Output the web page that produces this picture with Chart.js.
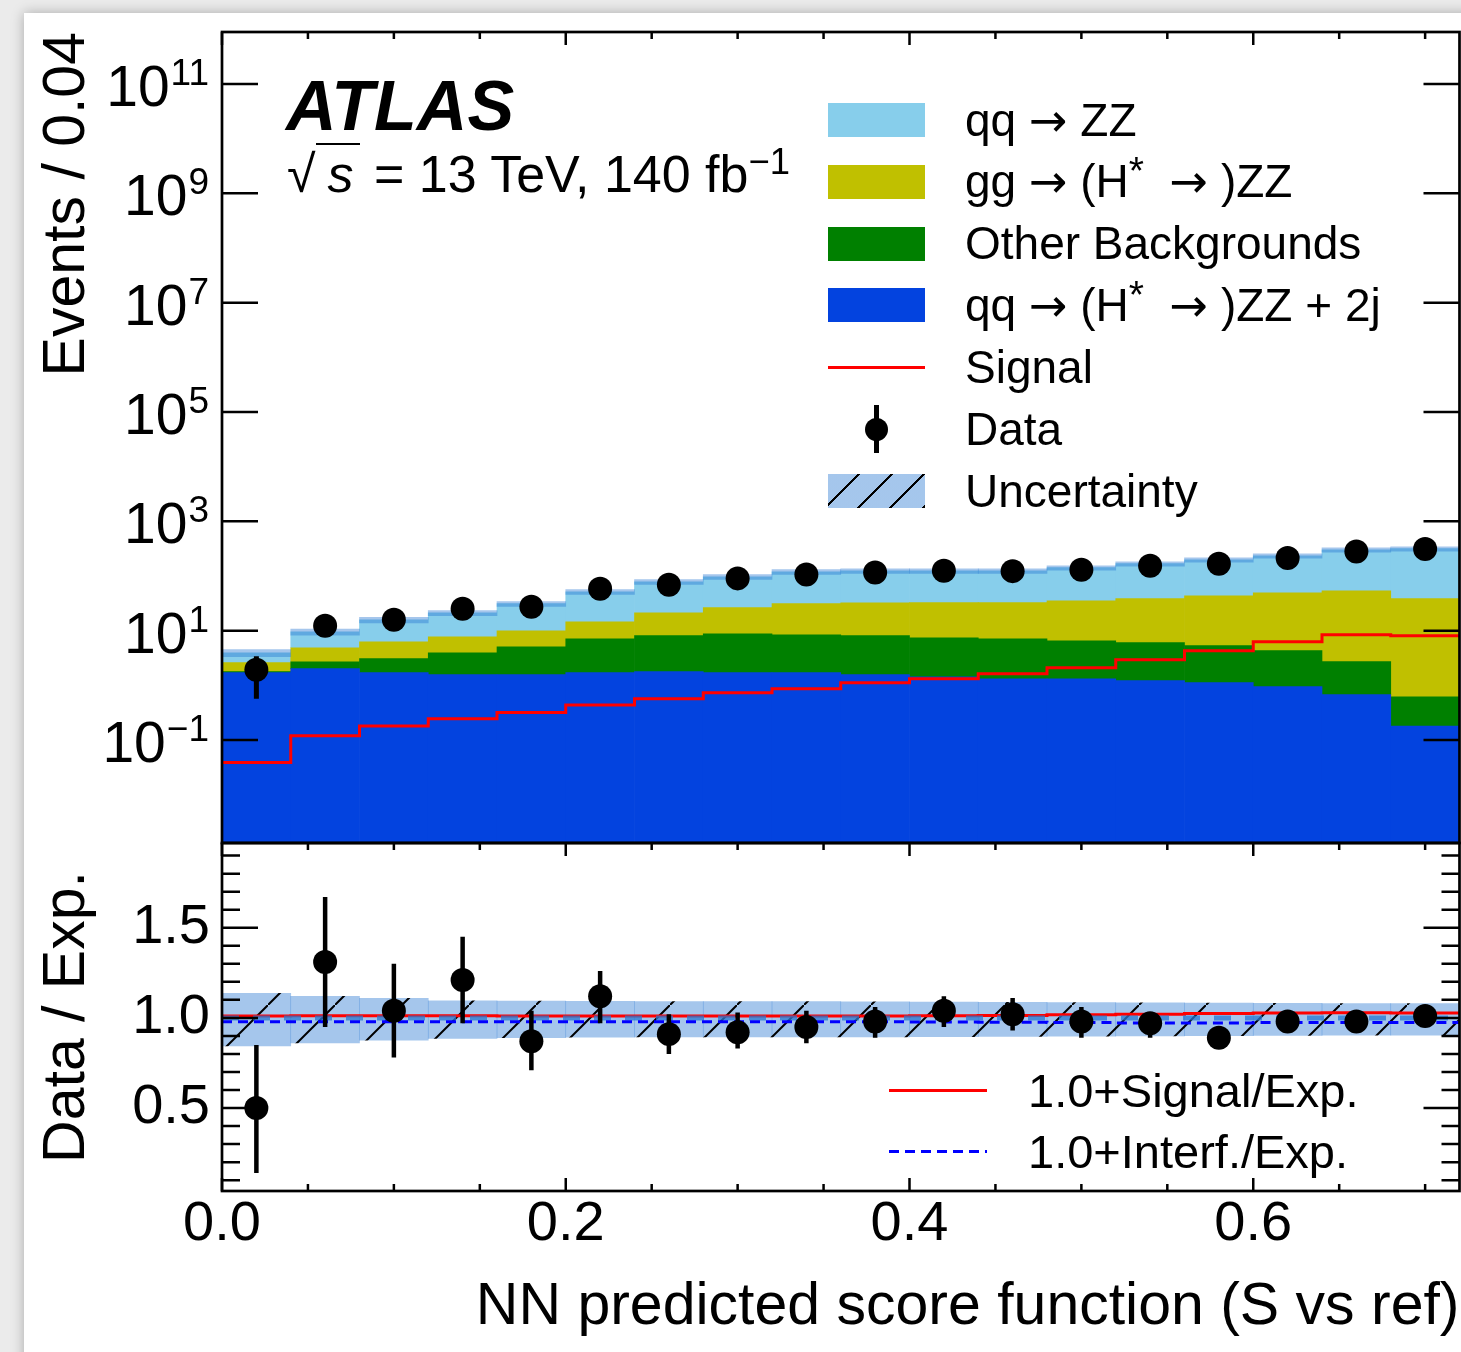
<!DOCTYPE html>
<html lang="en">
<head>
    <meta charset="UTF-8">
    <title>NN predicted score function (S vs ref)</title>
    <script src="https://cdn.jsdelivr.net/npm/chart.js@4"></script>
    <style>
        html, body { margin: 0; padding: 0; }
        body { width: 1461px; height: 1352px; background: #ebebeb; position: relative; overflow: hidden;
               font-family: "Liberation Sans", Arial, sans-serif; color: #000; }
        #card { position: absolute; left: 24px; top: 13px; width: 1500px; height: 1400px; background: #fff;
                box-shadow: 0 0 12px rgba(0, 0, 0, 0.28); }
        #plot { position: absolute; left: 0; top: 0; }
        .txt { position: absolute; white-space: nowrap; line-height: 1; }
        sup { font-size: 0.7em; line-height: 0; position: relative; top: -0.5em; vertical-align: baseline; }
        sup.star { font-size: 0.85em; top: -0.35em; }
        .arr { font-family: "DejaVu Sans", sans-serif; }
        .box { position: absolute; left: 828px; width: 97px; height: 34px; }
    </style>
</head>
<body>
    <div id="card"></div>
    <canvas id="plot" width="1461" height="1352"></canvas>

    <div class="txt" style="left:286px; top:71px; font-size:70px; font-weight:bold; font-style:italic;">ATLAS</div>
    <div class="txt" style="left:287px; top:148px; font-size:52px;"><span>&radic;</span><span style="border-top:2.5px solid #000; padding:0 6px 0 12px; font-style:italic;">s</span> = 13 TeV, 140 fb<sup>&minus;1</sup></div>

    <div id="legend"></div>

    <script>
        // histogram binning of the NN score
        const binEdges = [0.00, 0.04, 0.08, 0.12, 0.16, 0.20, 0.24, 0.28, 0.32, 0.36,
                          0.40, 0.44, 0.48, 0.52, 0.56, 0.60, 0.64, 0.68, 0.72];

        // expected events per bin, bottom of the stack first
        const qqZZjj   = [1.71, 2.02, 1.71, 1.57, 1.57, 1.71, 1.78, 1.71, 1.71, 1.57, 1.44, 1.32, 1.32, 1.22, 1.12, 0.95, 0.68, 0.18];
        const otherBkg = [0.07, 0.69, 1.37, 2.39, 3.52, 5.43, 6.33, 7.10, 6.74, 6.54, 6.01, 5.82, 5.24, 4.82, 4.20, 3.36, 2.04, 0.44];
        const ggZZ     = [0.82, 2.18, 3.21, 3.80, 4.91, 7.46, 13.2, 17.6, 22.8, 24.4, 25.1, 25.4, 28.8, 32.5, 38.3, 45.2, 51.2, 37.9];
        const qqZZ     = [1.36, 4.70, 9.60, 13.5, 21.2, 37.0, 57.4, 70.8, 88.8, 92.5, 92.5, 92.5, 107, 130, 155, 186, 249, 278];
        const signal   = [0.039, 0.12, 0.18, 0.245, 0.32, 0.44, 0.57, 0.73, 0.87, 1.12, 1.32, 1.63, 2.10, 2.95, 4.31, 6.29, 8.45, 8.11];

        // observed data
        const dataEvents = [1.94, 12.3, 15.9, 25.2, 27.5, 58.6, 69.3, 90.6, 107, 116, 125, 123, 130, 154, 168, 214, 282, 312];
        const dataLo     = [0.57, 8.9, 11.9, 19.7, 22.4, 50.8, 61.4, 81.0, 97, 106, 114, 112, 119, 142, 156, 199, 265, 294];
        const dataHi     = [3.4, 15.7, 19.9, 30.7, 32.6, 66.4, 77.2, 100, 117, 126, 136, 134, 141, 166, 180, 229, 299, 330];

        // ratio panel
        const ratioData = [0.50, 1.31, 1.04, 1.21, 0.87, 1.12, 0.91, 0.92, 0.95, 0.98, 1.04, 1.02, 0.98, 0.97, 0.89, 0.98, 0.98, 1.01];
        const ratioLo   = [0.14, 0.95, 0.78, 0.97, 0.71, 0.97, 0.80, 0.83, 0.86, 0.89, 0.95, 0.93, 0.89, 0.89, 0.85, 0.93, 0.93, 0.96];
        const ratioHi   = [0.85, 1.67, 1.30, 1.45, 1.04, 1.26, 1.02, 1.03, 1.04, 1.06, 1.12, 1.11, 1.06, 1.03, 0.94, 1.03, 1.03, 1.05];
        const uncLo     = [0.844, 0.861, 0.876, 0.886, 0.891, 0.893, 0.894, 0.894, 0.894, 0.894, 0.896, 0.897, 0.899, 0.900, 0.901, 0.903, 0.904, 0.904];
        const uncHi     = [1.136, 1.120, 1.108, 1.094, 1.093, 1.092, 1.091, 1.090, 1.090, 1.089, 1.088, 1.087, 1.085, 1.084, 1.082, 1.081, 1.080, 1.080];
        const sigRatio    = [1.010, 1.012, 1.012, 1.012, 1.011, 1.010, 1.010, 1.010, 1.010, 1.011, 1.012, 1.014, 1.017, 1.020, 1.024, 1.027, 1.028, 1.027];
        const interfRatio = [0.978, 0.978, 0.978, 0.978, 0.978, 0.978, 0.978, 0.978, 0.978, 0.978, 0.977, 0.976, 0.975, 0.972, 0.972, 0.974, 0.975, 0.975];

        // axis ticks
        const xTicks = [0.0, 0.2, 0.4, 0.6];
        const ratioTicks = [0.5, 1.0, 1.5];
        const logTickExps = [-1, 1, 3, 5, 7, 9, 11];

        const FONT = '"Liberation Sans", Arial, sans-serif';
        const bandColor = 'rgba(40, 120, 210, 0.42)';

        const centers = binEdges.slice(0, -1).map((e, i) => (e + binEdges[i + 1]) / 2);
        const points = vals => vals.map((v, i) => ({x: centers[i], y: v}));
        // histogram outline: value of bin i is held from edge i to edge i+1
        const steps = vals => binEdges.map((e, i) => ({x: e, y: vals[Math.min(i, vals.length - 1)]}));
        const totals = centers.map((c, i) => qqZZjj[i] + otherBkg[i] + ggZZ[i] + qqZZ[i]);

        function hatchPattern() {
            const s = 67;
            const c = document.createElement('canvas');
            c.width = s; c.height = s;
            const g = c.getContext('2d');
            g.fillStyle = bandColor;
            g.fillRect(0, 0, s, s);
            g.strokeStyle = '#000';
            g.lineWidth = 2;
            g.beginPath();
            g.moveTo(-2, s + 2); g.lineTo(s + 2, -2);
            g.stroke();
            return g.createPattern(c, 'repeat');
        }

        // frame, inward ticks, 10^n labels, error bars
        const atlasStyle = {
            id: 'atlasStyle',
            beforeDatasetDraw(chart, args) {
                const ds = chart.data.datasets[args.index];
                if (!ds.errLo) return;
                const {ctx} = chart;
                const sx = chart.scales.x, sy = chart.scales[ds.yAxisID];
                ctx.save();
                ctx.strokeStyle = '#000';
                ctx.lineWidth = ds.errWidth;
                ctx.beginPath();
                centers.forEach((c, i) => {
                    const px = sx.getPixelForValue(c);
                    ctx.moveTo(px, sy.getPixelForValue(ds.errLo[i]));
                    ctx.lineTo(px, sy.getPixelForValue(ds.errHi[i]));
                });
                ctx.stroke();
                ctx.restore();
            },
            afterDatasetDraw(chart, args) {
                const ds = chart.data.datasets[args.index];
                if (!ds.nominalLine) return;
                const {ctx, chartArea} = chart;
                const sx = chart.scales.x, sy = chart.scales.ratio;
                const py = sy.getPixelForValue(1.0);
                ctx.save();
                ctx.strokeStyle = 'rgba(40, 120, 210, 0.75)';
                ctx.lineWidth = 5;
                ctx.setLineDash([17, 14]);
                ctx.beginPath();
                ctx.moveTo(sx.left, py);
                ctx.lineTo(chartArea.right, py);
                ctx.stroke();
                ctx.restore();
            },
            afterDraw(chart) {
                const {ctx} = chart;
                const sx = chart.scales.x, yU = chart.scales.y, yL = chart.scales.ratio;
                const L = sx.left, R = sx.right;
                ctx.save();
                ctx.strokeStyle = '#000';
                ctx.lineWidth = 2.5;
                ctx.beginPath();
                for (let k = 0; k <= 14; k++) {
                    const v = k * 0.05;
                    const px = sx.getPixelForValue(v);
                    const len = (k % 4 === 0) ? 13 : 7;
                    ctx.moveTo(px, yU.top); ctx.lineTo(px, yU.top + len);
                    ctx.moveTo(px, yL.top); ctx.lineTo(px, yL.top + len);
                    ctx.moveTo(px, yL.bottom); ctx.lineTo(px, yL.bottom - len);
                }
                logTickExps.forEach(e => {
                    const py = yU.getPixelForValue(Math.pow(10, e));
                    ctx.moveTo(L, py); ctx.lineTo(L + 36, py);
                    ctx.moveTo(R, py); ctx.lineTo(R - 36, py);
                });
                for (let k = 1; k <= 19; k++) {
                    const py = yL.getPixelForValue(k / 10);
                    const len = (k % 5 === 0) ? 36 : 18;
                    ctx.moveTo(L, py); ctx.lineTo(L + len, py);
                    ctx.moveTo(R, py); ctx.lineTo(R - len, py);
                }
                ctx.stroke();

                ctx.lineWidth = 2.7;
                ctx.strokeRect(L, yU.top, R - L, yU.bottom - yU.top);
                ctx.strokeRect(L, yL.top, R - L, yL.bottom - yL.top);

                // log axis labels as 10 with a raised exponent
                ctx.fillStyle = '#000';
                ctx.textAlign = 'right';
                ctx.textBaseline = 'alphabetic';
                logTickExps.forEach(e => {
                    const py = yU.getPixelForValue(Math.pow(10, e));
                    const sup = e < 0 ? '\u2212' + (-e) : String(e);
                    ctx.font = '37px ' + FONT;
                    const w = ctx.measureText(sup).width;
                    ctx.fillText(sup, 209, py + 1);
                    ctx.font = '57px ' + FONT;
                    ctx.fillText('10', 208 - w, py + 22);
                });
                ctx.restore();
            }
        };

        const noPadY = axis => { axis.width = 222; axis.paddingTop = 0; axis.paddingBottom = 0; };

        const barCommon = {type: 'bar', yAxisID: 'y', stack: 'exp', borderWidth: 0};
        const lineCommon = {type: 'line', stepped: 'before', pointRadius: 0, borderWidth: 3, fill: false};

        const chart = new Chart(document.getElementById('plot'), {
            type: 'bar',
            data: {
                datasets: [
                    {...barCommon, label: 'qq → (H* → )ZZ + 2j', data: points(qqZZjj), backgroundColor: '#0343df', order: 10},
                    {...barCommon, label: 'Other Backgrounds', data: points(otherBkg), backgroundColor: '#008000', order: 11},
                    {...barCommon, label: 'gg → (H* → )ZZ', data: points(ggZZ), backgroundColor: '#c0c000', order: 12},
                    {...barCommon, label: 'qq → ZZ', data: points(qqZZ), backgroundColor: '#87ceeb', order: 13},
                    {type: 'bar', label: 'Uncertainty', yAxisID: 'y', stack: 'unc', borderWidth: 0,
                     data: centers.map((c, i) => ({x: c, y: [totals[i] * uncLo[i], totals[i] * uncHi[i]]})),
                     backgroundColor: bandColor, order: 6},
                    {...lineCommon, label: 'Signal', yAxisID: 'y', stack: 'sig', data: steps(signal), borderColor: '#ff0000', order: 5},
                    {type: 'scatter', label: 'Data', yAxisID: 'y', stack: 'data', data: points(dataEvents),
                     pointRadius: 12, pointBackgroundColor: '#000', pointBorderWidth: 0, order: 1,
                     errLo: dataLo, errHi: dataHi, errWidth: 5},

                    {type: 'bar', label: 'Uncertainty (ratio)', yAxisID: 'ratio', borderWidth: 0,
                     data: centers.map((c, i) => ({x: c, y: [uncLo[i], uncHi[i]]})),
                     backgroundColor: hatchPattern(), order: 6},
                    {...lineCommon, label: '1.0+Signal/Exp.', yAxisID: 'ratio', data: steps(sigRatio), borderColor: '#ff0000',
                     order: 5, nominalLine: true},
                    {...lineCommon, label: '1.0+Interf./Exp.', yAxisID: 'ratio', data: steps(interfRatio), borderColor: '#0000ff',
                     borderDash: [10, 6], order: 4},
                    {type: 'scatter', label: 'Data / Exp.', yAxisID: 'ratio', data: points(ratioData),
                     pointRadius: 12, pointBackgroundColor: '#000', pointBorderWidth: 0, order: 1,
                     errLo: ratioLo, errHi: ratioHi, errWidth: 4.5}
                ]
            },
            options: {
                responsive: false,
                devicePixelRatio: 1,
                animation: false,
                layout: {autoPadding: false, padding: {top: 32, right: 1.5, left: 0, bottom: 0}},
                datasets: {bar: {grouped: false, barPercentage: 1.0, categoryPercentage: 1.0}},
                plugins: {legend: {display: false}, tooltip: {enabled: false}},
                scales: {
                    x: {
                        type: 'linear',
                        min: 0, max: 0.72,
                        offset: false,
                        grid: {display: false, drawTicks: false},
                        border: {display: false},
                        afterBuildTicks: axis => { axis.ticks = xTicks.map(v => ({value: v})); },
                        afterFit: axis => { axis.height = 161; axis.paddingLeft = 0; axis.paddingRight = 0; },
                        ticks: {
                            autoSkip: false, maxRotation: 0, padding: 0, color: '#000',
                            font: {family: FONT, size: 56},
                            callback: v => v.toFixed(1)
                        },
                        title: {
                            display: true, text: 'NN predicted score function (S vs ref)', align: 'end', color: '#000',
                            font: {family: FONT, size: 59}, padding: {top: 0, bottom: 9}
                        }
                    },
                    y: {
                        type: 'logarithmic',
                        position: 'left',
                        stack: 'panels', stackWeight: 811, weight: 2,
                        stacked: true,
                        min: 1.31e-3, max: 8.93e11,
                        grid: {display: false, drawTicks: false},
                        border: {display: false},
                        ticks: {display: false},
                        afterFit: noPadY,
                        title: {
                            display: true, text: 'Events / 0.04', align: 'end', color: '#000',
                            font: {family: FONT, size: 59}, padding: {top: 32, bottom: 0}
                        }
                    },
                    ratio: {
                        type: 'linear',
                        position: 'left',
                        stack: 'panels', stackWeight: 348, weight: 1,
                        stacked: false,
                        min: 0.04, max: 1.97,
                        grid: {display: false, drawTicks: false},
                        border: {display: false},
                        afterBuildTicks: axis => { axis.ticks = ratioTicks.map(v => ({value: v})); },
                        afterFit: noPadY,
                        ticks: {
                            padding: 12, color: '#000',
                            font: {family: FONT, size: 56},
                            callback: v => v.toFixed(1)
                        },
                        title: {
                            display: true, text: 'Data / Exp.', align: 'center', color: '#000',
                            font: {family: FONT, size: 59}, padding: {top: 32, bottom: 0}
                        }
                    }
                }
            },
            plugins: [atlasStyle]
        });

        // legend (upper panel entries, then ratio panel entries)
        const arrow = '<span class="arr">→</span>';
        const legendEntries = [
            {kind: 'box', color: '#87ceeb', html: `qq ${arrow} ZZ`},
            {kind: 'box', color: '#c0c000', html: `gg ${arrow} (H<sup class="star">*</sup>&nbsp; ${arrow} )ZZ`},
            {kind: 'box', color: '#008000', html: 'Other Backgrounds'},
            {kind: 'box', color: '#0343df', html: `qq ${arrow} (H<sup class="star">*</sup>&nbsp; ${arrow} )ZZ + 2j`},
            {kind: 'line', color: '#ff0000', html: 'Signal'},
            {kind: 'data', html: 'Data'},
            {kind: 'hatch', html: 'Uncertainty'}
        ];
        const legend = document.getElementById('legend');
        let out = '';
        legendEntries.forEach((e, i) => {
            const mid = 119.7 + 61.9 * i;
            const base = 135.5 + 61.9 * i;
            if (e.kind === 'box') {
                out += `<div class="box" style="top:${mid - 17}px; background:${e.color};"></div>`;
            } else if (e.kind === 'line') {
                out += `<div class="box" style="top:${mid - 1.5}px; height:3px; background:${e.color};"></div>`;
            } else if (e.kind === 'data') {
                out += `<div style="position:absolute; left:873.5px; top:${mid - 24}px; width:5px; height:48px; background:#000;"></div>`;
                out += `<div style="position:absolute; left:864.5px; top:${mid - 11.5}px; width:23px; height:23px; border-radius:50%; background:#000;"></div>`;
            } else {
                out += `<div class="box" style="top:${mid - 17}px; background:repeating-linear-gradient(135deg, ${bandColor} 0 21px, #000 21px 23px);"></div>`;
            }
            out += `<div class="txt" style="left:965px; top:${base - 0.8465 * 46}px; font-size:46px;">${e.html}</div>`;
        });
        out += `<div style="position:absolute; left:889px; top:1088.5px; width:98px; height:3px; background:#ff0000;"></div>`;
        out += `<div class="txt" style="left:1028px; top:${1106.7 - 0.8465 * 47}px; font-size:47px;">1.0+Signal/Exp.</div>`;
        out += `<div style="position:absolute; left:889px; top:1149.5px; width:98px; height:3px; background:repeating-linear-gradient(90deg, #0000ff 0 10px, transparent 10px 16px);"></div>`;
        out += `<div class="txt" style="left:1028px; top:${1168 - 0.8465 * 47}px; font-size:47px;">1.0+Interf./Exp.</div>`;
        legend.innerHTML = out;
    </script>
</body>
</html>
